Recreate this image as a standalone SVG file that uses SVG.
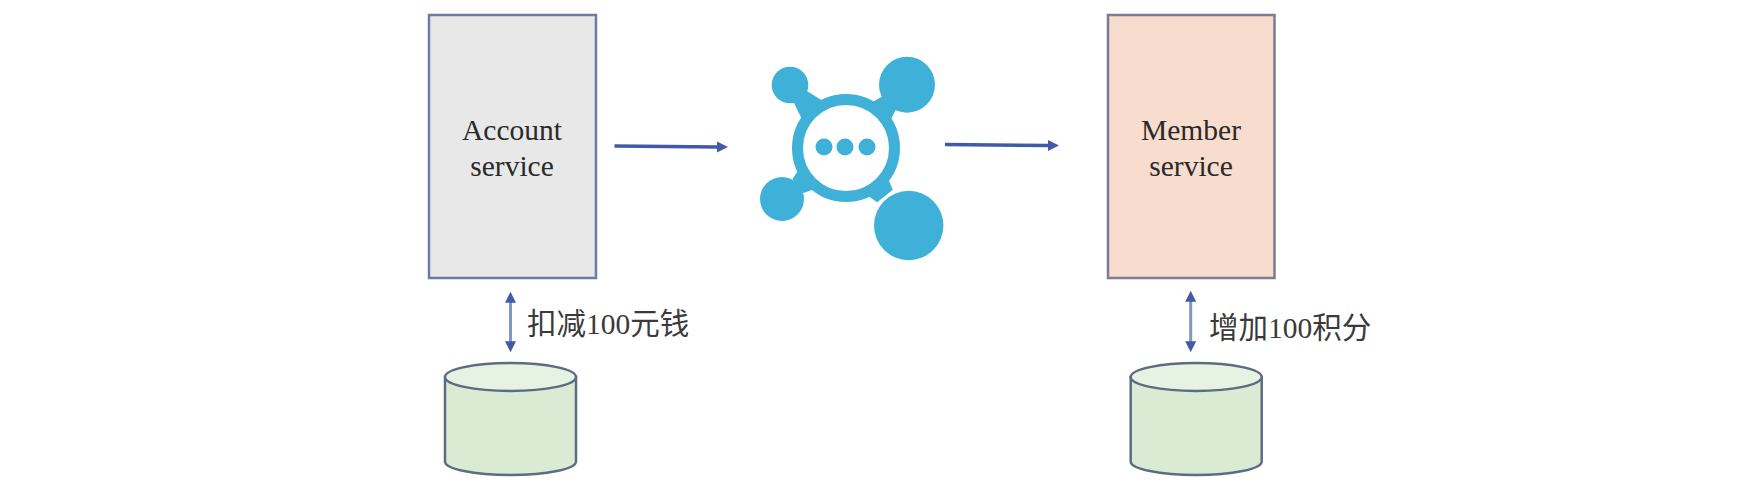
<svg xmlns="http://www.w3.org/2000/svg" width="1758" height="500" viewBox="0 0 1758 500">
<defs>
<marker id="head" markerUnits="userSpaceOnUse" markerWidth="12" markerHeight="12" refX="1" refY="6" orient="auto-start-reverse"><path d="M0 0.500L11 6L0 11.500Z" fill="#4459a8"/></marker>
</defs>
<style>
.box{stroke-width:2.500}
.lab{font-family:"Liberation Serif",serif;font-size:29.500px;fill:#2a2a2a;text-anchor:middle}
.cn{font-family:"Liberation Serif","Noto Sans CJK SC",serif;font-size:29.500px;fill:#3a3a3a}
.db{fill:#d9ebd2;stroke:#5d6b85;stroke-width:2.500}
.dbt{fill:#e6f2e2;stroke:#5d6b85;stroke-width:2.500}
.h{stroke:#3f5aa8;stroke-width:3.500;fill:none;marker-end:url(#head)}
.v{stroke:#7f97c6;stroke-width:3;fill:none;marker-end:url(#head);marker-start:url(#head)}
.ic{fill:#3fb0d8}
</style>
<rect width="1758" height="500" fill="#fff"/>
<g id="connectors">
<path class="h" d="M614.500 146L718 147"/>
<path class="h" d="M945 144.500L1049 145.500"/>
<path class="v" d="M510.500 301.700V342.300"/>
<path class="v" d="M1190.700 300.700V342.300"/>
</g>
<g id="account"><rect class="box" x="429" y="15" width="167" height="263" fill="#e8e8e9" stroke="#6e7ba6"/><text class="lab" x="512" y="140">Account</text><text class="lab" x="512" y="176">service</text></g>
<g id="member"><rect class="box" x="1108" y="15" width="166.500" height="263" fill="#f8dccd" stroke="#7a7c95"/><text class="lab" x="1191" y="140">Member</text><text class="lab" x="1191" y="176">service</text></g>
<g id="broker">
<path class="ic" d="M801.200 87.400L826.200 103L803.800 123L790.800 96.600ZM896.500 108.300L884.200 132.800L859.800 109.200L883.500 95.700ZM803.600 193L825 185.500L805 160.500L792.400 179ZM892.800 189.700L884.400 170L859.600 190L877.200 202.300Z"/>
<circle cx="790" cy="85" r="18.300" class="ic"/><circle cx="907" cy="84.700" r="28" class="ic"/><circle cx="782" cy="199" r="22" class="ic"/><circle cx="908.700" cy="225.500" r="34.700" class="ic"/>
<circle cx="846" cy="148" r="48.500" fill="#fff" stroke="#3fb0d8" stroke-width="11"/>
<circle cx="824" cy="147" r="8.500" class="ic"/><circle cx="845" cy="147" r="8.500" class="ic"/><circle cx="867" cy="147" r="8.500" class="ic"/>
</g>
<g id="db-left"><path class="db" d="M445 377V461.500C445 469 474 475 510.500 475C547 475 576 469 576 461.500V377Z"/><ellipse class="dbt" cx="510.500" cy="377" rx="65.500" ry="14"/></g>
<g id="db-right"><path class="db" d="M1130.700 377V461.500C1130.700 469 1160 475 1196.200 475C1232.400 475 1261.700 469 1261.700 461.500V377Z"/><ellipse class="dbt" cx="1196.200" cy="377" rx="65.500" ry="14"/></g>
<text class="cn" x="527" y="333.500">扣减100元钱</text>
<text class="cn" x="1209" y="337.500">增加100积分</text>
</svg>
